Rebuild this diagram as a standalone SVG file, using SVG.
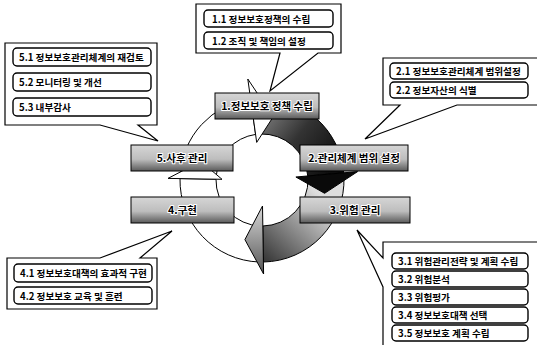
<svg xmlns="http://www.w3.org/2000/svg" width="537" height="345" viewBox="0 0 537 345">
<defs>
 <linearGradient id="gDark" gradientUnits="userSpaceOnUse" x1="266" y1="112" x2="335" y2="168">
  <stop offset="0" stop-color="#7a7a7a"/><stop offset="0.45" stop-color="#333"/><stop offset="1" stop-color="#0d0d0d"/>
 </linearGradient>
 <linearGradient id="gLow" gradientUnits="userSpaceOnUse" x1="325" y1="200" x2="268" y2="262">
  <stop offset="0" stop-color="#dedede"/><stop offset="1" stop-color="#3a3a3a"/>
 </linearGradient>
 <linearGradient id="gLowHead" x1="0" y1="0" x2="0" y2="1">
  <stop offset="0" stop-color="#d8d8d8"/><stop offset="1" stop-color="#555"/>
 </linearGradient>
 <linearGradient id="gBox" x1="0" y1="0" x2="0" y2="1">
  <stop offset="0" stop-color="#d6d6d6"/><stop offset="0.55" stop-color="#bdbdbd"/><stop offset="0.78" stop-color="#8a8a8a"/><stop offset="1" stop-color="#5a5a5a"/>
 </linearGradient>
</defs>
<style>
 .band{stroke:#000;stroke-width:1;stroke-linejoin:round}
 .white{fill:#fff}
 .box{fill:url(#gBox);stroke:#000;stroke-width:1}
 .bt{font-family:"Noto Sans CJK KR","Noto Sans",sans-serif;font-weight:bold;font-size:10.5px;fill:#000;text-anchor:middle;stroke:#fff;stroke-width:2;paint-order:stroke;stroke-linejoin:round}
 .co{fill:#fff;stroke:#000;stroke-width:1.2;stroke-linejoin:miter}
 .ib{fill:#fff;stroke:#000;stroke-width:1.4}
 .ct{font-family:"Noto Sans CJK KR","Noto Sans",sans-serif;font-weight:bold;font-size:9.6px;fill:#000}
</style>

<g id="callout1">
 <path class="co" d="M196,4 H341 V53 H318 L270,91 L280,53 H196 Z"/>
 <rect class="ib" x="204" y="10" width="129" height="17" rx="4"/>
 <text class="ct" x="212" y="22.5">1.1 정보보호정책의 수립</text>
 <rect class="ib" x="204" y="32" width="129" height="17" rx="4"/>
 <text class="ct" x="212" y="44.5">1.2 조직 및 책임의 설정</text>
</g>
<g id="callout2">
 <path class="co" d="M383,58 H545 V105 H457 L365,139 L400,105 H383 Z"/>
 <rect class="ib" x="390" y="63" width="138" height="16" rx="4"/>
 <text class="ct" x="396" y="75">2.1 정보보호관리체계 범위설정</text>
 <rect class="ib" x="390" y="82" width="138" height="16" rx="4"/>
 <text class="ct" x="396" y="94">2.2 정보자산의 식별</text>
</g>
<g id="callout3">
 <path class="co" d="M383,242 H545 V352 H383 V287 L357,230 L383,258 Z"/>
 <rect class="ib" x="392" y="253" width="136" height="16" rx="4"/>
 <text class="ct" x="398" y="265">3.1 위험관리전략 및 계획 수립</text>
 <rect class="ib" x="392" y="271" width="136" height="16" rx="4"/>
 <text class="ct" x="398" y="283">3.2 위험분석</text>
 <rect class="ib" x="392" y="289" width="136" height="16" rx="4"/>
 <text class="ct" x="398" y="301">3.3 위험평가</text>
 <rect class="ib" x="392" y="307" width="136" height="16" rx="4"/>
 <text class="ct" x="398" y="319">3.4 정보보호대책 선택</text>
 <rect class="ib" x="392" y="325" width="136" height="16" rx="4"/>
 <text class="ct" x="398" y="337">3.5 정보보호 계획 수립</text>
</g>
<g id="callout4">
 <path class="co" d="M7,258 H100 L172,231 L140,258 H157 V309 H7 Z"/>
 <rect class="ib" x="14" y="264" width="138" height="18" rx="4"/>
 <text class="ct" x="20" y="277">4.1 정보보호대책의 효과적 구현</text>
 <rect class="ib" x="14" y="287" width="138" height="17" rx="4"/>
 <text class="ct" x="20" y="299.5">4.2 정보보호 교육 및 훈련</text>
</g>
<g id="callout5">
 <path class="co" d="M5,43 H157 V125 H138 L158,141 L100,125 H5 Z"/>
 <rect class="ib" x="13" y="48" width="138" height="18" rx="4"/>
 <text class="ct" x="19" y="61">5.1 정보보호관리체계의 재검토</text>
 <rect class="ib" x="13" y="73" width="138" height="18" rx="4"/>
 <text class="ct" x="19" y="86">5.2 모니터링 및 개선</text>
 <rect class="ib" x="13" y="98" width="138" height="18" rx="4"/>
 <text class="ct" x="19" y="111">5.3 내부감사</text>
</g>

<g id="connectors">
 <path class="band white" d="M180.1,175.7 A82 82 0 0 1 250.6,98.8 L255.6,134.4 A46 46 0 0 0 216.1,177.6 Z"/>
 <path class="band white" d="M259.1,262.0 A82 82 0 0 1 180.0,178.6 L216.0,179.2 A46 46 0 0 0 260.4,226.0 Z"/>
 <path class="band" fill="url(#gLow)" d="M343.95,177.1 A82 82 0 0 1 263.4,262.0 L262.8,226.0 A46 46 0 0 0 308.0,178.4 Z"/>
 <path class="band" fill="url(#gDark)" d="M259.1,98.0 A82 82 0 0 1 343.7,172.8 L307.8,176.0 A46 46 0 0 0 260.4,134.0 Z"/>
 <path class="band" fill="#0a0a0a" d="M357.6,171.6 L324.6,193.3 L295.9,177.0 Z"/>
 <path class="band" fill="url(#gLowHead)" d="M262.5,206.0 L263.6,274.0 L244.9,239.6 Z"/>
 <path class="band white" d="M168.0,178.4 L222.0,179.3 L200.8,161.3 Z"/>
 <path class="band white" d="M247.8,79.0 L256.7,142.4 L273.1,117.0 Z"/>
</g>

<g id="box1"><rect class="box" x="215" y="93" width="104" height="26"/><text class="bt" x="267" y="110">1.정보보호 정책 수립</text></g>
<g id="box2"><rect class="box" x="300" y="145" width="108" height="26"/><text class="bt" x="354" y="162">2.관리체계 범위 설정</text></g>
<g id="box3"><rect class="box" x="300" y="197" width="110" height="26"/><text class="bt" x="355" y="214">3.위험 관리</text></g>
<g id="box4"><rect class="box" x="131" y="197" width="103" height="26"/><text class="bt" x="182.5" y="214">4.구현</text></g>
<g id="box5"><rect class="box" x="131" y="145" width="102" height="26"/><text class="bt" x="182" y="162">5.사후 관리</text></g>
</svg>
